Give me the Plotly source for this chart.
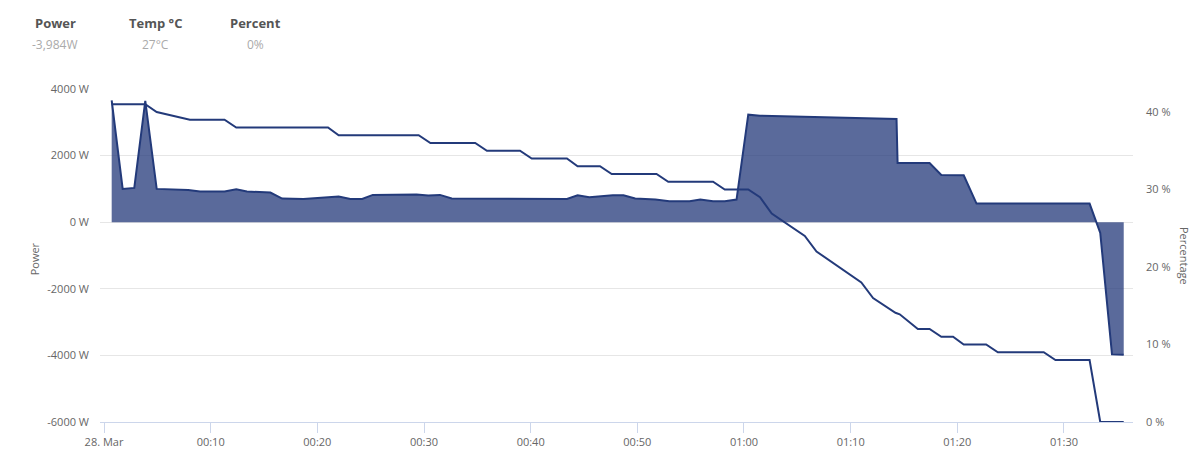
import pandas as pd
import plotly.graph_objects as go

# minutes after midnight, 28 March
power_min = [0.72, 1.75, 2.84, 3.87, 4.94, 7.9, 9.0, 11.3, 12.4, 13.4, 15.6, 16.7,
             18.7, 20.9, 22.0, 23.1, 24.2, 25.2, 29.3, 30.4, 31.5, 32.6, 35.9, 39.0,
             43.4, 44.4, 45.5, 47.7, 48.7, 49.8, 51.7, 53.0, 54.9, 55.9, 57.1, 58.2,
             59.3, 60.4, 61.5, 74.3, 74.4, 77.4, 78.5, 80.6, 81.8, 92.4, 93.4, 94.5, 95.6]
power_w = [3660, 1000, 1030, 3640, 1000, 970, 920, 920, 990, 920, 890, 710,
           700, 740, 770, 700, 700, 820, 830, 800, 820, 710, 700, 710,
           700, 810, 750, 810, 810, 710, 680, 630, 630, 680, 630, 630,
           680, 3230, 3200, 3100, 1780, 1780, 1420, 1410, 560, 560, -320, -3970, -3984]

pct_min = [0.72, 3.87, 4.94, 8.05, 11.3, 12.4, 21.0, 22.0, 29.5, 30.6, 34.8, 35.9,
           39.0, 40.1, 43.4, 44.4, 46.5, 47.6, 51.8, 52.9, 57.1, 58.2, 60.4, 61.5,
           62.6, 65.7, 66.8, 71.0, 72.1, 74.2, 74.6, 76.3, 77.4, 78.5, 79.6, 80.6,
           82.7, 83.8, 88.1, 89.2, 92.4, 93.4, 95.6]
pct_val = [41, 41, 40, 39, 39, 38, 38, 37, 37, 36, 36, 35,
           35, 34, 34, 33, 33, 32, 32, 31, 31, 30, 30, 29,
           26.9, 24, 22, 18, 16, 14.1, 13.9, 12, 12, 11, 11, 10,
           10, 9, 9, 8, 8, 0, 0]

tick_min = [0, 10, 20, 30, 40, 50, 60, 70, 80, 90]
tick_text = ["28. Mar", "00:10", "00:20", "00:30", "00:40", "00:50",
             "01:00", "01:10", "01:20", "01:30"]
power_ticks = [-6000, -4000, -2000, 0, 2000, 4000]
pct_ticks = [0, 10, 20, 30, 40]

header_titles = ["Power", "Temp °C", "Percent"]
header_values = ["-3,984W", "27°C", "0%"]

start = pd.Timestamp("2024-03-28 00:00")


def to_time(mins):
    return start + pd.to_timedelta(mins, unit="min")


line_col = "#233a7a"
font = "Open Sans"

fig = go.Figure()
fig.add_trace(go.Scatter(
    x=to_time(power_min), y=power_w, name="Power", mode="lines",
    line=dict(color=line_col, width=2),
    fill="tozeroy", fillcolor="rgba(35,56,122,0.75)",
))
fig.add_trace(go.Scatter(
    x=to_time(pct_min), y=pct_val, name="Percentage", mode="lines",
    line=dict(color=line_col, width=2), yaxis="y2",
))

fig.update_layout(
    width=1200, height=454,
    margin=dict(l=100, r=67, t=89, b=32),
    plot_bgcolor="white", paper_bgcolor="white",
    showlegend=False,
    font=dict(family=font, size=11, color="#666666"),
    xaxis=dict(
        range=[to_time(-0.375), to_time(96.47)],
        tickvals=to_time(tick_min), ticktext=tick_text,
        showgrid=False, zeroline=False, automargin=False,
        showline=True, linecolor="#ccd6eb", linewidth=1,
        ticks="outside", ticklen=10, tickcolor="#ccd6eb",
    ),
    yaxis=dict(
        range=[-6000, 4000], tickvals=power_ticks,
        ticktext=[f"{v} W" for v in power_ticks],
        showgrid=True, gridcolor="#e6e6e6", zeroline=False,
        automargin=False, ticklabelstandoff=10,
    ),
    yaxis2=dict(
        overlaying="y", side="right", range=[0, 42.97],
        tickvals=pct_ticks, ticktext=[f"{v} %" for v in pct_ticks],
        showgrid=False, zeroline=False, automargin=False,
        ticklabelstandoff=12,
    ),
)

# axis titles
fig.add_annotation(text="Power", xref="paper", yref="paper", x=0, y=0.49,
                   xshift=-75, textangle=-90, showarrow=False,
                   font=dict(size=11, color="#666666"))
fig.add_annotation(text="Percentage", xref="paper", yref="paper", x=1, y=0.5,
                   xshift=61, textangle=90, showarrow=False,
                   font=dict(size=11, color="#666666"))

# header stats
for i, (t, v) in enumerate(zip(header_titles, header_values)):
    cx = 55 + i * 100
    fig.add_annotation(text="<b>" + t + "</b>", xref="paper", yref="paper",
                       x=0, y=1, xshift=cx - 100, yshift=66, xanchor="center",
                       yanchor="middle", showarrow=False,
                       font=dict(size=13, color="#555555"))
    fig.add_annotation(text=v, xref="paper", yref="paper",
                       x=0, y=1, xshift=cx - 100, yshift=45, xanchor="center",
                       yanchor="middle", showarrow=False,
                       font=dict(size=12, color="#aaaaaa"))

# the page has a default 8px body margin; drop it so the figure fills the window
fig.write_html("out.html", config={"displayModeBar": False},
               post_script="document.body.style.margin = '0';")
